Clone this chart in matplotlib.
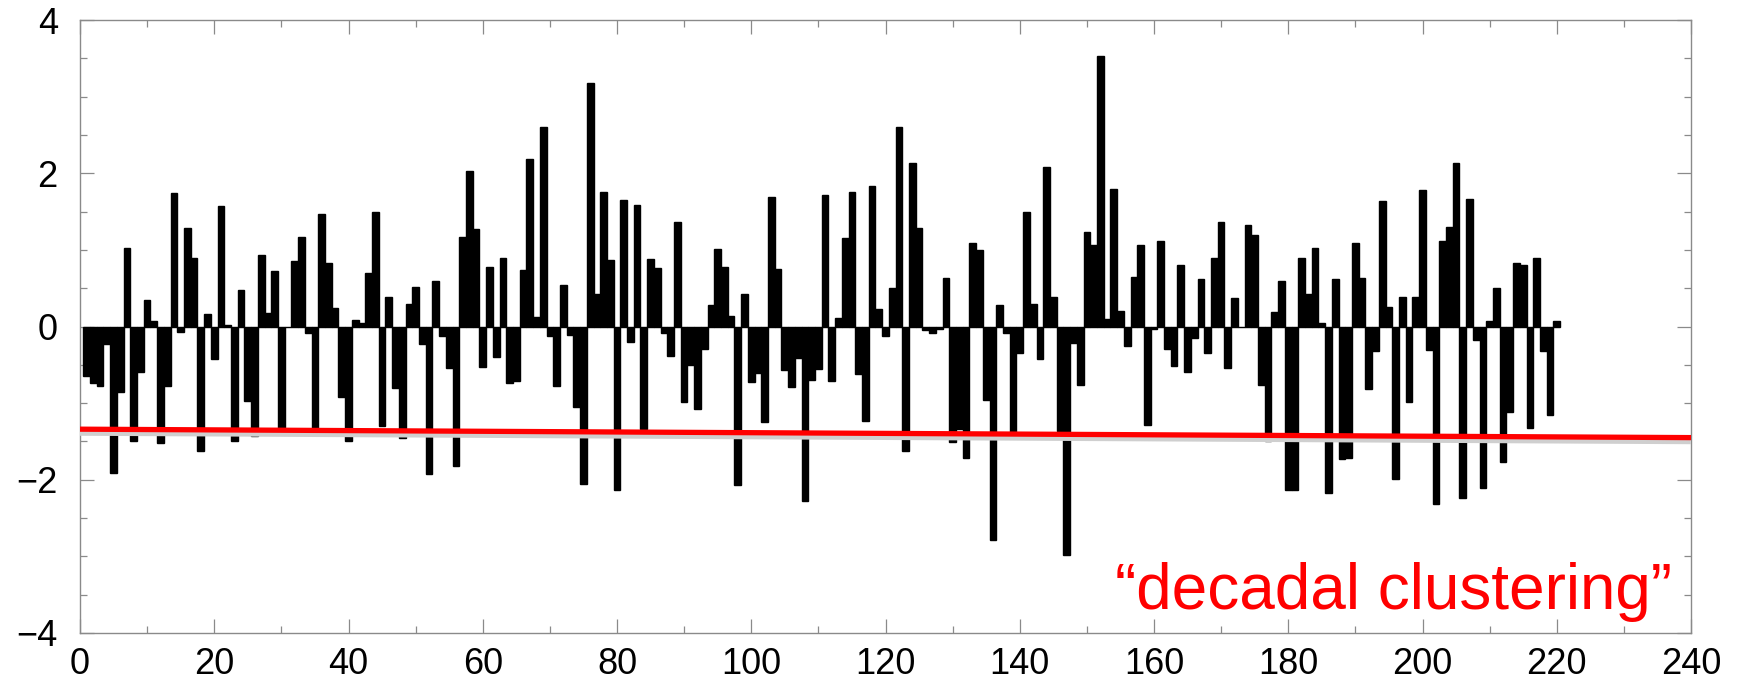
import numpy as np
import matplotlib
matplotlib.use("Agg")
import matplotlib.pyplot as plt
from matplotlib.ticker import MultipleLocator

plt.rcParams["font.family"] = ["Liberation Sans", "DejaVu Sans"]

# -------------------------------------------------
# Data
# -------------------------------------------------
years = np.arange(1, 221)

anomaly = [
    # 1-30
    -0.64, -0.74, -0.78, -0.23, -1.91, -0.85, 1.03, -1.49, -0.60, 0.34,
    0.07, -1.52, -0.78, 1.74, -0.07, 1.29, 0.89, -1.63, 0.16, -0.42,
    1.57, 0.02, -1.49, 0.48, -0.97, -1.43, 0.93, 0.17, 0.72, -1.34,
    # 31-60
    -0.01, 0.85, 1.17, -0.08, -1.41, 1.47, 0.83, 0.24, -0.92, -1.49,
    0.09, 0.04, 0.70, 1.50, -1.30, 0.39, -0.80, -1.46, 0.30, 0.51,
    -0.23, -1.93, 0.60, -0.12, -0.54, -1.82, 1.17, 2.03, 1.27, -0.53,
    # 61-90
    0.77, -0.40, 0.90, -0.74, -0.71, 0.74, 2.18, 0.13, 2.61, -0.12,
    -0.78, 0.54, -0.11, -1.05, -2.05, 3.18, 0.42, 1.76, 0.87, -2.13,
    1.65, -0.20, 1.59, -1.34, 0.88, 0.76, -0.08, -0.39, 1.37, -0.99,
    # 91-120
    -0.50, -1.08, -0.30, 0.28, 1.01, 0.78, 0.14, -2.07, 0.42, -0.72,
    -0.61, -1.24, 1.69, 0.75, -0.57, -0.79, -0.41, -2.28, -0.70, -0.56,
    1.71, -0.71, 0.11, 1.15, 1.75, -0.62, -1.23, 1.84, 0.23, -0.12,
    # 121-150
    0.50, 2.61, -1.62, 2.13, 1.29, -0.05, -0.09, -0.03, 0.63, -1.51,
    -1.34, -1.71, 1.09, 1.00, -0.96, -2.79, 0.28, -0.09, -1.46, -0.34,
    1.49, 0.30, -0.42, 2.08, 0.38, -1.37, -2.98, -0.21, -0.76, 1.23,
    # 151-180
    1.07, 3.53, 0.10, 1.79, 0.20, -0.25, 0.65, 1.07, -1.28, -0.03,
    1.11, -0.30, -0.51, 0.80, -0.59, -0.15, 0.62, -0.34, 0.90, 1.36,
    -0.54, 0.37, -0.01, 1.33, 1.20, -0.76, -1.49, 0.19, 0.59, -2.13,
    # 181-210
    -2.13, 0.90, 0.42, 1.02, 0.05, -2.17, 0.62, -1.73, -1.71, 1.09,
    0.63, -0.82, -0.32, 1.64, 0.25, -1.99, 0.38, -0.99, 0.39, 1.78,
    -0.31, -2.31, 1.11, 1.30, 2.14, -2.24, 1.67, -0.17, -2.11, 0.07,
    # 211-220
    0.50, -1.77, -1.12, 0.83, 0.80, -1.33, 0.89, -0.32, -1.15, 0.07,
]

# trend line end points
trend_x = [0, 240]
trend_red = [-1.34, -1.45]
trend_grey = [-1.39, -1.50]

x_ticks = np.arange(0, 241, 20)
y_ticks = np.arange(-4, 5, 2)

# -------------------------------------------------
# Figure + layout
# -------------------------------------------------
DPI = 100
fig = plt.figure(figsize=(1742 / DPI, 685 / DPI), dpi=DPI)
fig.patch.set_facecolor("white")
ax = fig.add_axes([80 / 1742, 1 - 633 / 685, (1691 - 80) / 1742, (633 - 20) / 685])

ax.bar(years, anomaly, width=1.0, color="black", edgecolor="black",
       linewidth=1.0, zorder=2)

# trend: soft grey shadow underneath, red on top
ax.plot(trend_x, trend_grey, color="#cfcfcf", linewidth=4.0,
        solid_capstyle="butt", zorder=3)
ax.plot(trend_x, trend_red, color="#ff0000", linewidth=3.8,
        solid_capstyle="butt", zorder=4)

ax.text(237.2, -3.69, "\u201cdecadal clustering\u201d", color="#ff0000",
        fontsize=46, ha="right", va="baseline", zorder=5)

# -------------------------------------------------
# Axes styling
# -------------------------------------------------
ax.set_xlim(0, 240)
ax.set_ylim(-4, 4)
ax.set_xticks(x_ticks)
ax.set_yticks(y_ticks)
ax.xaxis.set_minor_locator(MultipleLocator(10))
ax.yaxis.set_minor_locator(MultipleLocator(0.5))

for spine in ax.spines.values():
    spine.set_color("#8a8a8a")
    spine.set_linewidth(1.0)

ax.tick_params(which="both", direction="in", top=True, right=True,
               color="#8a8a8a", width=0.9)
ax.tick_params(which="major", length=10, labelsize=26, pad=10)
ax.tick_params(which="minor", length=5)
ax.tick_params(axis="y", which="major", pad=16)

ax.set_yticklabels(["\u22124", "\u22122", "0", "2", "4"])

fig.savefig("out.png", dpi=DPI, facecolor=fig.get_facecolor())
